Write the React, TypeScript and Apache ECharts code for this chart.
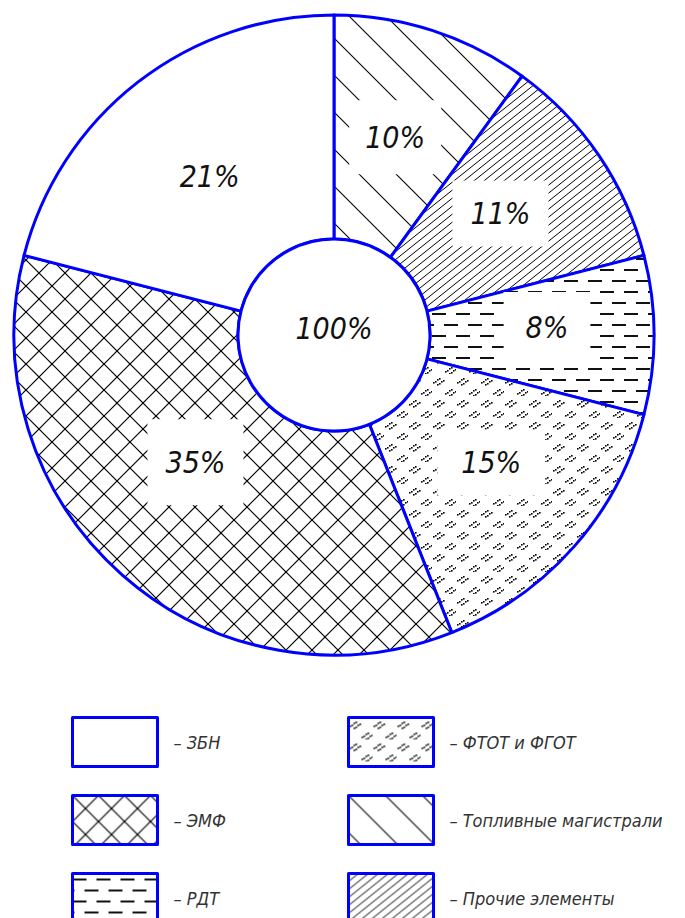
import React, { useEffect, useRef } from 'react';
import * as echarts from 'echarts';

// ---- data ----
const categories = ['Топливные магистрали', 'Прочие элементы', 'РДТ', 'ФТОТ и ФГОТ', 'ЭМФ', 'ЗБН'];
const shares = [10, 11, 8, 15, 35, 21];
const totalLabel = '100%';
const legendLeftNames = ['ЗБН', 'ЭМФ', 'РДТ'];
const legendRightNames = ['ФТОТ и ФГОТ', 'Топливные магистрали', 'Прочие элементы'];

const BLUE = '#0000ff';
const FONT = "'DejaVu Sans Condensed', 'DejaVu Sans', sans-serif";

function makeTile(w: number, h: number, draw: (ctx: CanvasRenderingContext2D) => void) {
  const c = document.createElement('canvas');
  c.width = w;
  c.height = h;
  const ctx = c.getContext('2d') as CanvasRenderingContext2D;
  ctx.fillStyle = '#ffffff';
  ctx.fillRect(0, 0, w, h);
  draw(ctx);
  return { image: c, repeat: 'repeat', imageWidth: w, imageHeight: h } as any;
}

function line(ctx: CanvasRenderingContext2D, x1: number, y1: number, x2: number, y2: number) {
  ctx.beginPath();
  ctx.moveTo(x1, y1);
  ctx.lineTo(x2, y2);
  ctx.stroke();
}

function buildPatterns() {
  // ЭМФ: cross hatch
  const cross = makeTile(26, 26, (ctx) => {
    const s = 26;
    ctx.strokeStyle = '#000';
    ctx.lineWidth = 1.2;
    for (let k = -1; k <= 1; k++) {
      line(ctx, -2, -2 + k * s, s + 2, s + 2 + k * s);
      line(ctx, -2, s + 2 + k * s, s + 2, -2 + k * s);
    }
  });
  // Топливные магистрали: sparse back-slash hatch
  const sparse = makeTile(37, 37, (ctx) => {
    const s = 37;
    ctx.strokeStyle = '#000';
    ctx.lineWidth = 1.1;
    for (let k = -1; k <= 1; k++) line(ctx, -2, -2 + k * s, s + 2, s + 2 + k * s);
  });
  // Прочие элементы: dense forward hatch
  const dense = makeTile(10, 8, (ctx) => {
    const w = 10, h = 8;
    ctx.strokeStyle = '#000';
    ctx.lineWidth = 1;
    for (let k = -1; k <= 1; k++) line(ctx, -2.5, h + 2 + k * h, w + 2.5, -2 + k * h);
  });
  // РДТ: staggered horizontal dashes
  const dashes = makeTile(24, 22, (ctx) => {
    ctx.fillStyle = '#111';
    ctx.fillRect(0, 5, 14, 2);
    ctx.fillRect(12, 16, 12, 2);
    ctx.fillRect(0, 16, 2, 2);
  });
  // ФТОТ и ФГОТ: small slanted dotted stroke pairs
  const dots = makeTile(24, 22, (ctx) => {
    ctx.fillStyle = '#000';
    const cluster = (cx: number, cy: number) => {
      for (let i = 0; i < 4; i++) {
        ctx.fillRect(cx - 6 + 2 * i, cy + 2 - Math.round(1.4 * i), 1.6, 1.6);
        ctx.fillRect(cx - 2 + 2 * i, cy + 4 - Math.round(1.4 * i), 1.6, 1.6);
      }
    };
    cluster(7, 6);
    cluster(19, 17);
  });
  return {
    'Топливные магистрали': sparse,
    'Прочие элементы': dense,
    'РДТ': dashes,
    'ФТОТ и ФГОТ': dots,
    'ЭМФ': cross,
    'ЗБН': '#ffffff',
  } as Record<string, any>;
}

const labelPads: Record<string, number[]> = {
  'Топливные магистрали': [22, 16],
  'Прочие элементы': [18, 18],
  'РДТ': [20, 22],
  'ФТОТ и ФГОТ': [18, 24],
  'ЭМФ': [28, 18],
  'ЗБН': [10, 10],
};

const labelShift: Record<string, number[]> = {
  'Топливные магистрали': [-4, 3],
  'Прочие элементы': [-8, -3],
  'РДТ': [2, -8],
  'ФТОТ и ФГОТ': [-1, -12],
  'ЭМФ': [1, -31],
  'ЗБН': [5, 8],
};

export default function App() {
  const ref = useRef<HTMLDivElement>(null);
  useEffect(() => {
    if (!ref.current) return;
    const chart = echarts.init(ref.current, undefined, { renderer: 'svg' });
    const patterns = buildPatterns();
    const legendCommon = {
      orient: 'vertical',
      top: 716,
      height: 260,
      padding: 0,
      icon: 'rect',
      itemWidth: 85,
      itemHeight: 49,
      itemGap: 26,
      selectedMode: false,
      itemStyle: { borderColor: BLUE, borderWidth: 3 },
      formatter: (n: string) => '– ' + n,
      textStyle: {
        fontFamily: FONT,
        fontStyle: 'italic',
        fontSize: 18,
        color: '#333',
        padding: [0, 0, 0, 11],
      },
    };
    const option: any = {
      animation: false,
      backgroundColor: '#ffffff',
      legend: [
        { ...legendCommon, left: 71, data: legendLeftNames },
        { ...legendCommon, left: 347, data: legendRightNames },
      ],
      series: [
        {
          type: 'pie',
          center: [334, 335],
          radius: [96, 320],
          startAngle: 90,
          clockwise: true,
          silent: true,
          emphasis: { disabled: true },
          itemStyle: { borderColor: BLUE, borderWidth: 3 },
          label: {
            show: true,
            position: 'inside',
            formatter: '{c}%',
            fontFamily: FONT,
            fontStyle: 'italic',
            fontSize: 30,
            color: '#111',
            backgroundColor: '#ffffff',
          },
          labelLine: { show: false },
          labelLayout: (p: any) => {
            const s = labelShift[categories[p.dataIndex]] || [0, 0];
            return { dx: s[0], dy: s[1] };
          },
          data: categories.map((name, i) => ({
            name,
            value: shares[i],
            itemStyle: { color: patterns[name] },
            label: { padding: labelPads[name] },
          })),
        },
        {
          type: 'pie',
          center: [334, 335],
          radius: [0, 96],
          silent: true,
          emphasis: { disabled: true },
          itemStyle: { color: '#ffffff', borderColor: BLUE, borderWidth: 3 },
          label: {
            show: true,
            position: 'center',
            formatter: '{b}',
            fontFamily: FONT,
            fontStyle: 'italic',
            fontSize: 30,
            color: '#111',
          },
          labelLayout: () => ({ dy: -7 }),
          labelLine: { show: false },
          data: [{ name: totalLabel, value: 100 }],
        },
      ],
    };
    chart.setOption(option);
    return () => chart.dispose();
  }, []);
  return (
    <div
      ref={ref}
      style={{ position: 'absolute', left: 0, top: 0, width: 685, height: 918 }}
    />
  );
}
